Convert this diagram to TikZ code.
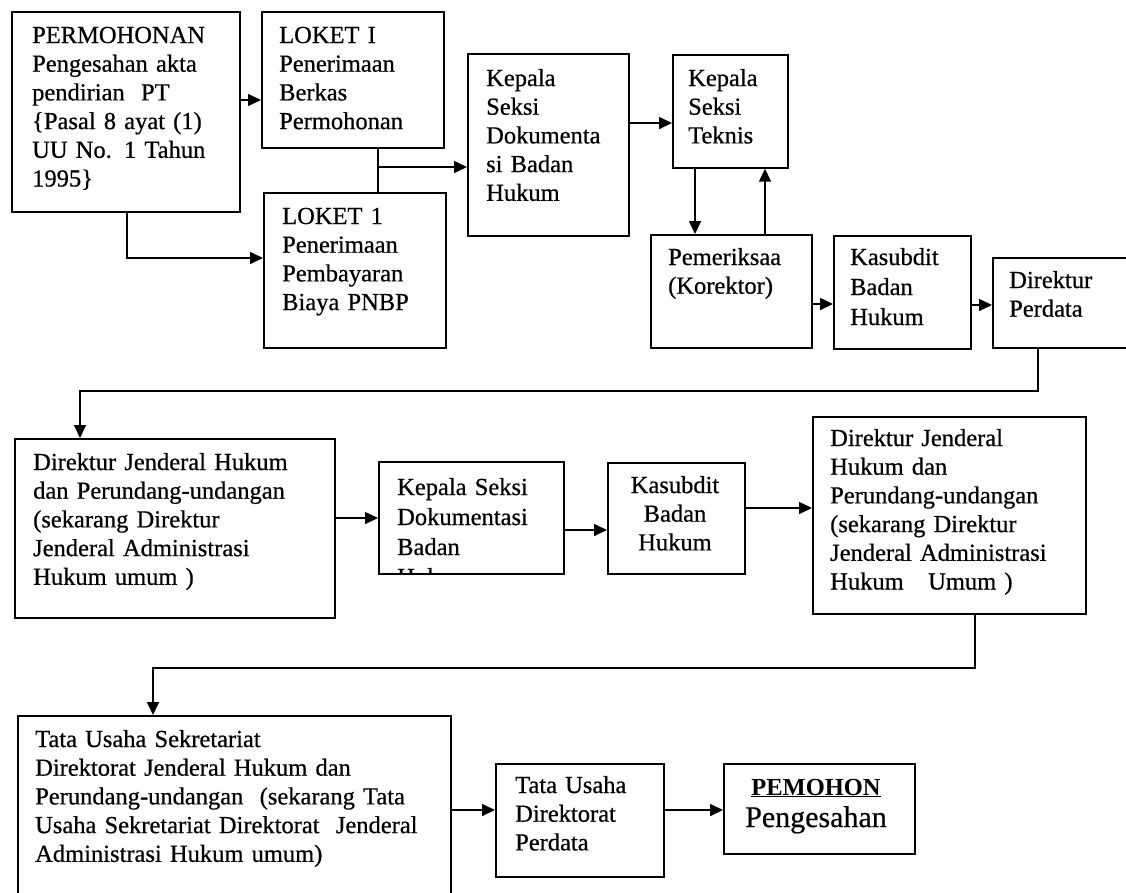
\documentclass[tikz,border=0pt]{standalone}
\usepackage{fontspec}
\setmainfont{Liberation Serif}[UprightFeatures={FakeBold=0.6}]
\usetikzlibrary{arrows.meta}
\tikzset{
  box/.style={draw, line width=1.7pt, inner sep=0pt, anchor=north west},
  lbl/.style={inner sep=0pt, anchor=base west, align=left, text width=#1,
              font=\fontsize{24.5}{28.7}\selectfont},
  lbl/.default=330pt,
  flow/.style={line width=1.6pt, -{Triangle[length=13pt,width=12pt]}},
  wire/.style={line width=1.6pt},
}
\begin{document}
\begin{tikzpicture}[x=1pt, y=-1pt]
\useasboundingbox (0,0) rectangle (1126,892);
\fill[white] (0,0) rectangle (1126,892);
\clip (0,0) rectangle (1126,892);

% ---------- boxes ----------
\node[box, minimum width=228pt, minimum height=200pt] (A) at (11,11) {};
\node[box, minimum width=182pt, minimum height=136pt] (B) at (261,11) {};
\node[box, minimum width=182pt, minimum height=155pt] (C) at (263,192) {};
\node[box, minimum width=161pt, minimum height=182pt] (D) at (467,53) {};
\node[box, minimum width=115pt, minimum height=113pt] (E) at (672,54) {};
\node[box, minimum width=161pt, minimum height=113pt] (F) at (650,234) {};
\node[box, minimum width=137pt, minimum height=113pt] (G) at (833,235) {};
\node[box, minimum width=150pt, minimum height=90pt]  (H) at (992,257) {};
\node[box, minimum width=320pt, minimum height=179pt] (I) at (14,438) {};
\node[box, minimum width=185pt, minimum height=112pt] (J) at (378,461) {};
\node[box, minimum width=137pt, minimum height=111pt] (K) at (607,462) {};
\node[box, minimum width=273pt, minimum height=197pt] (L) at (812,416) {};
\node[box, minimum width=433pt, minimum height=200pt] (M) at (17,715) {};
\node[box, minimum width=168pt, minimum height=113pt] (N) at (495,763) {};
\node[box, minimum width=191pt, minimum height=90pt]  (O) at (723,763) {};

% ---------- labels ----------
\node[lbl] (At) at (32,43) {PERMOHONAN\\Pengesahan akta\\pendirian\ \ PT\\\{Pasal 8 ayat (1)\\UU No. 1 Tahun\\1995\}};
\node[lbl] (Bt) at (279,43) {LOKET I\\Penerimaan\\Berkas\\Permohonan};
\node[lbl] (Ct) at (282,224) {LOKET 1\\Penerimaan\\Pembayaran\\Biaya PNBP};
\node[lbl] (Dt) at (486,86) {Kepala\\Seksi\\Dokumenta\\si Badan\\Hukum};
\node[lbl] (Et) at (688,86) {Kepala\\Seksi\\Teknis};
\node[lbl] (Ft) at (668,265) {Pemeriksaa\\(Korektor)};
\node[lbl, font=\fontsize{24.5}{30}\selectfont] (Gt) at (850,265) {Kasubdit\\Badan\\Hukum};
\node[lbl] (Ht) at (1009,288) {Direktur\\Perdata};
\node[lbl] (It) at (33,470) {Direktur Jenderal Hukum\\dan Perundang-undangan\\(sekarang Direktur\\Jenderal Administrasi\\Hukum umum )};
\begin{scope}
  \clip (J.north west) rectangle (J.south east);
  \node[lbl, font=\fontsize{24.5}{30}\selectfont] (Jt) at (397,495) {Kepala Seksi\\Dokumentasi\\Badan\\Hukum};
\end{scope}
\node[lbl=140pt, anchor=base, align=center] (Kt) at (675,493) {Kasubdit\\Badan\\Hukum};
\node[lbl] (Lt) at (830,446) {Direktur Jenderal\\Hukum dan\\Perundang-undangan\\(sekarang Direktur\\Jenderal Administrasi\\Hukum\ \ \ Umum )};
\node[lbl=420pt] (Mt) at (35,747) {Tata Usaha Sekretariat\\Direktorat Jenderal Hukum dan\\Perundang-undangan\ \ (sekarang Tata\\Usaha Sekretariat Direktorat\ \ Jenderal\\Administrasi Hukum umum)};
\node[lbl] (Nt) at (515,793) {Tata Usaha\\Direktorat\\Perdata};
\node[inner sep=0pt, anchor=base, font=\fontsize{24.5}{28}\selectfont\bfseries] (Ot1) at (816,795) {\underline{PEMOHON}};
\node[inner sep=0pt, anchor=base, font=\fontsize{30}{36}\selectfont] (Ot2) at (816,827) {Pengesahan};

% ---------- connectors ----------
\draw[flow] (A.east |- 0,100) -- (B.west |- 0,100);
\draw[flow] (A.south -| 127,0) |- (C.west |- 0,258);
\draw[wire] (B.south -| 378,0) -- (C.north -| 378,0);
\coordinate (jn) at (378,167);
\draw[flow] (jn) -- (D.west |- jn);
\draw[flow] (D.east |- 0,123) -- (E.west |- 0,123);
\draw[flow] (E.south -| 695,0) -- (F.north -| 695,0);
\draw[flow] (F.north -| 765,0) -- (E.south -| 765,0);
\draw[flow] (F.east |- 0,304) -- (G.west |- 0,304);
\draw[flow] (G.east |- 0,305) -- (H.west |- 0,305);
\draw[flow] (H.south -| 1038,0) -- (1038,391) -| (I.north -| 80,0);
\draw[flow] (I.east |- 0,518) -- (J.west |- 0,518);
\draw[flow] (J.east |- 0,530) -- (K.west |- 0,530);
\draw[flow] (K.east |- 0,508) -- (L.west |- 0,508);
\draw[flow] (L.south -| 975,0) -- (975,668) -| (M.north -| 153,0);
\draw[flow] (M.east |- 0,810) -- (N.west |- 0,810);
\draw[flow] (N.east |- 0,810) -- (O.west |- 0,810);
\end{tikzpicture}
\end{document}
